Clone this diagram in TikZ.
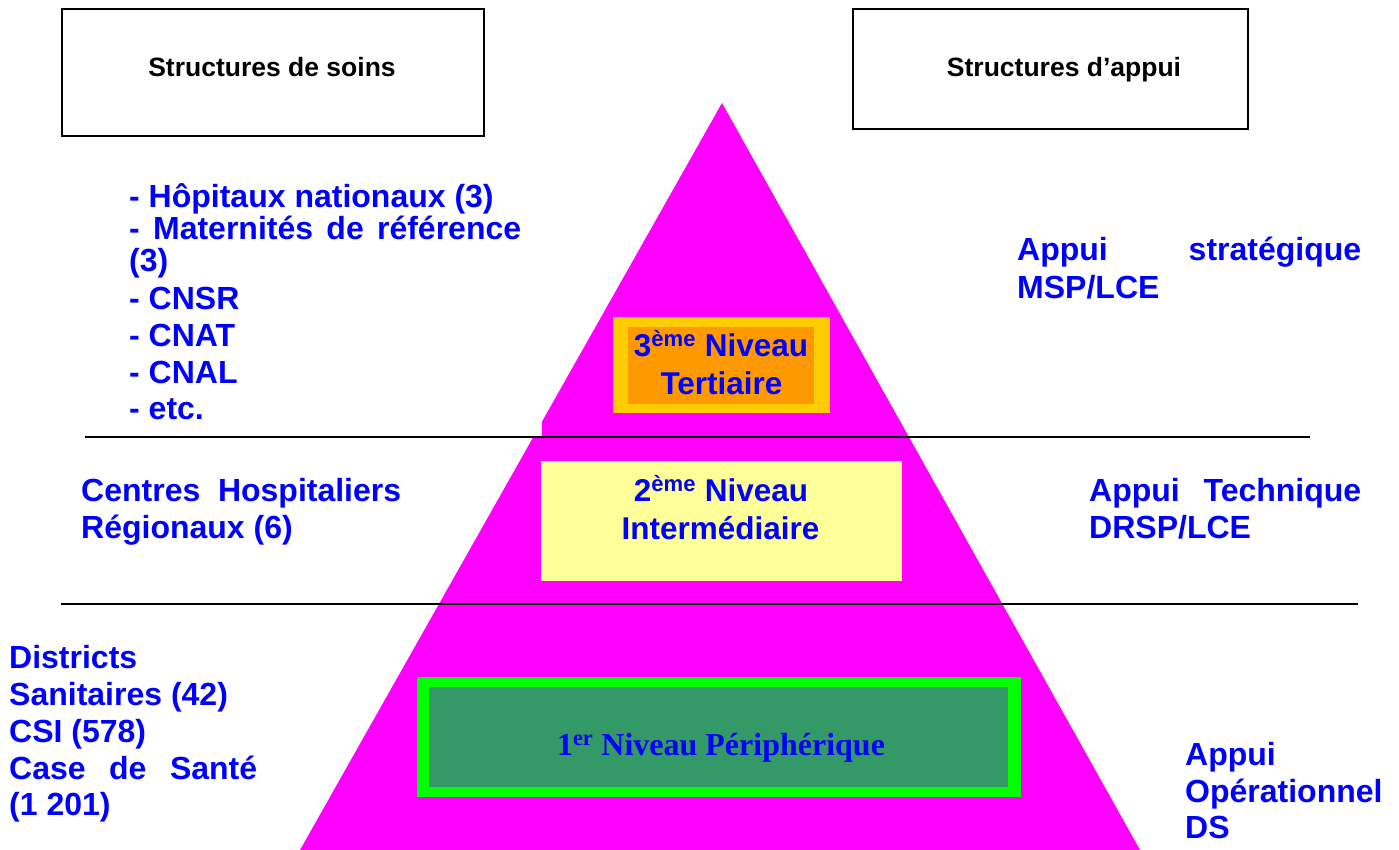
\documentclass[tikz,border=0pt]{standalone}
\usepackage{fontspec}
\setmainfont{Liberation Sans}
\newfontfamily\serifbold{Liberation Serif}
\definecolor{pyr}{RGB}{255,0,255}
\definecolor{txtblue}{RGB}{0,0,255}
\definecolor{goldf}{RGB}{255,204,0}
\definecolor{orangef}{RGB}{255,153,0}
\definecolor{paleyellow}{RGB}{255,255,153}
\definecolor{limef}{RGB}{0,255,0}
\definecolor{seagreenf}{RGB}{51,153,102}
\begin{document}
\begin{tikzpicture}[x=1pt,y=-1pt,
  hdrbox/.style={draw=black, line width=2pt},
  hdrtxt/.style={font=\bfseries\fontsize{26.5}{30}\selectfont, text=black, inner sep=0pt, anchor=base},
  lbl/.style={font=\bfseries\fontsize{32}{36}\selectfont, text=txtblue, inner sep=0pt, anchor=base west},
  lvl/.style={font=\bfseries\fontsize{31.5}{36}\selectfont, text=txtblue, inner sep=0pt, anchor=base},
  sep/.style={line width=2pt, black}
]
\useasboundingbox (0,0) rectangle (1399,850);
% pyramid
\fill[pyr] (722,103) -- (1140,850) -- (300,850) -- cycle;
\fill[white] (80,160) rectangle (542,437);
% separators
\coordinate (s1a) at (85,437);
\coordinate (s1b) at (1310,437);
\coordinate (s2a) at (61,604);
\coordinate (s2b) at (1358,604);
\draw[sep] (s1a) -- (s1b);
\draw[sep] (s2a) -- (s2b);
% header boxes
\draw[hdrbox] (62,9) rectangle (484,136);
\draw[hdrbox] (853,9) rectangle (1248,129);
\node[hdrtxt] (hsoins) at (272,77) {Structures de soins};
\node[hdrtxt] (happui) at (1064,77) {Structures d’appui};
% level 3
\fill[goldf] (613,317) rectangle (830,413);
\fill[orangef] (628,327) rectangle (814,404);
\node[lvl] (n3a) at (721,356) {3\textsuperscript{ème} Niveau};
\node[lvl] (n3b) at (721.5,394) {Tertiaire};
% level 2
\fill[paleyellow] (541,461) rectangle (902,581);
\node[lvl] (n2a) at (721,501) {2\textsuperscript{ème} Niveau};
\node[lvl] (n2b) at (720.5,539) {Intermédiaire};
% level 1
\fill[limef] (417,677) rectangle (1021,797);
\fill[seagreenf] (429,687) rectangle (1008,787);
\node[font=\serifbold\bfseries\fontsize{32}{36}\selectfont, text=txtblue, inner sep=0pt, anchor=base] (n1) at (721,755) {1\textsuperscript{er} Niveau Périphérique};
% left texts, level 3
\node[lbl] (l1) at (129,208) {- Hôpitaux nationaux (3)};
\node[lbl] (l2) at (129,240) {\makebox[392pt][s]{- Maternités de référence}};
\node[lbl] (l3) at (129,271) {(3)};
\node[lbl] (l4) at (129,309) {- CNSR};
\node[lbl] (l5) at (129,346) {- CNAT};
\node[lbl] (l6) at (129,383) {- CNAL};
\node[lbl] (l7) at (129,419) {- etc.};
% right texts, level 3
\node[lbl] (r1) at (1017,261) {\makebox[344pt][s]{Appui stratégique}};
\node[lbl] (r2) at (1017,298) {MSP/LCE};
% level 2 texts
\node[lbl] (m1) at (81,501) {\makebox[320pt][s]{Centres Hospitaliers}};
\node[lbl] (m2) at (81,538) {Régionaux (6)};
\node[lbl] (m3) at (1089,501) {\makebox[272pt][s]{Appui Technique}};
\node[lbl] (m4) at (1089,538) {DRSP/LCE};
% level 1 texts
\node[lbl] (b1) at (9,668) {Districts};
\node[lbl] (b2) at (9,705) {Sanitaires (42)};
\node[lbl] (b3) at (9,742) {CSI (578)};
\node[lbl] (b4) at (9,779) {\makebox[248pt][s]{Case de Santé}};
\node[lbl] (b5) at (9,815) {(1 201)};
\node[lbl] (d1) at (1185,765) {Appui};
\node[lbl] (d2) at (1185,802) {Opérationnel};
\node[lbl] (d3) at (1185,838) {DS};
\end{tikzpicture}
\end{document}
